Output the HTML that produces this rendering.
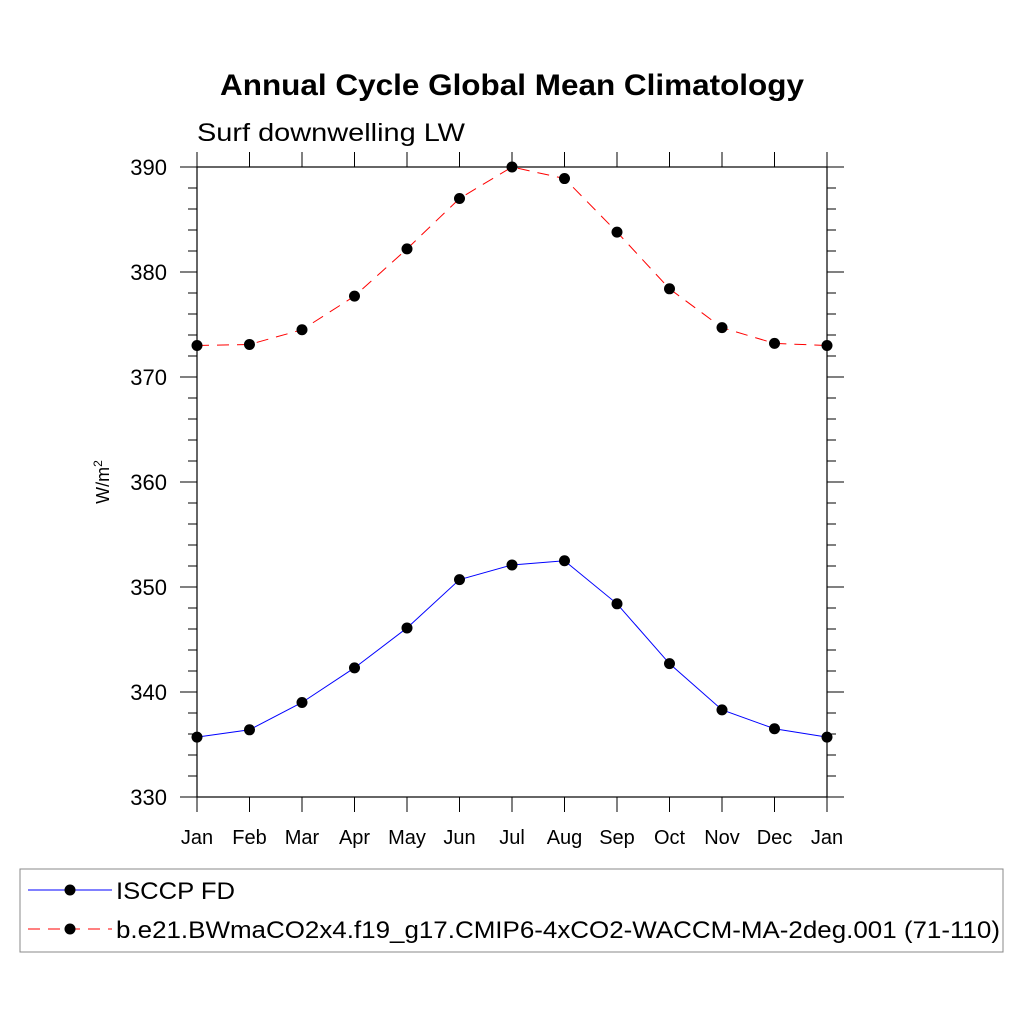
<!DOCTYPE html>
<html><head><meta charset="utf-8"><style>body{margin:0;background:#fff}svg{display:block;font-family:"Liberation Sans",sans-serif}</style></head>
<body>
<svg id="chart" width="1024" height="1024" viewBox="0 0 1024 1024" xmlns="http://www.w3.org/2000/svg">
<text x="220" y="95" font-size="30" font-weight="bold" textLength="584" lengthAdjust="spacingAndGlyphs">Annual Cycle Global Mean Climatology</text>
<text x="197" y="141" font-size="25" textLength="268" lengthAdjust="spacingAndGlyphs">Surf downwelling LW</text>
<text transform="translate(109,482) rotate(-90)" text-anchor="middle" font-size="18">W/m<tspan font-size="12" dy="-7">2</tspan></text>
<g id="axes"></g><g id="series"></g>
<rect x="20" y="869" width="983" height="83" fill="none" stroke="#888" stroke-width="1"/>
<g>
<line x1="28" y1="890" x2="112" y2="890" stroke="#00f" stroke-width="1"/><circle cx="70" cy="890" r="5.5" fill="#000"/>
<text x="116" y="899" font-size="24" textLength="119" lengthAdjust="spacingAndGlyphs">ISCCP FD</text></g>
<g>
<line x1="28" y1="929" x2="112" y2="929" stroke="#f00" stroke-width="1" stroke-dasharray="12,8"/><circle cx="70" cy="929" r="5.5" fill="#000"/>
<text x="116" y="938" font-size="24" textLength="884" lengthAdjust="spacingAndGlyphs">b.e21.BWmaCO2x4.f19_g17.CMIP6-4xCO2-WACCM-MA-2deg.001 (71-110)</text></g>
</svg>
<script>
const months=["Jan","Feb","Mar","Apr","May","Jun","Jul","Aug","Sep","Oct","Nov","Dec","Jan"];
const yTicks=[330,340,350,360,370,380,390];
const obsValues=[335.7,336.4,339.0,342.3,346.1,350.7,352.1,352.5,348.4,342.7,338.3,336.5,335.7];
const modelValues=[373.0,373.1,374.5,377.7,382.2,387.0,390.0,388.9,383.8,378.4,374.7,373.2,373.0];
const L=197,R=827,T=167,B=797,yMin=330,yMax=390;
const X=i=>L+(R-L)*i/(months.length-1);
const Y=v=>B-(v-yMin)/(yMax-yMin)*(B-T);
const NS="http://www.w3.org/2000/svg";
function mk(t,a,p){const e=document.createElementNS(NS,t);for(const k in a)e.setAttribute(k,a[k]);p.appendChild(e);return e;}
const ax=document.getElementById('axes');
const fr=mk('rect',{x:L,y:T,width:R-L,height:B-T,fill:'none',stroke:'#000','stroke-width':1.2},ax);


for(let v=yMin;v<=yMax;v+=2){const maj=(v-yMin)%10===0;const len=maj?17:9;
 mk('line',{x1:L-len,y1:Y(v),x2:L,y2:Y(v),stroke:'#000','stroke-width':1},ax);
 mk('line',{x1:R,y1:Y(v),x2:R+len,y2:Y(v),stroke:'#000','stroke-width':1},ax);}
yTicks.forEach(v=>{const t=mk('text',{x:L-30,y:Y(v)+8,'text-anchor':'end','font-size':22},ax);t.textContent=v;
 
 });
months.forEach((m,i)=>{mk('line',{x1:X(i),y1:B,x2:X(i),y2:B+15,stroke:'#000','stroke-width':1},ax);
 mk('line',{x1:X(i),y1:T,x2:X(i),y2:T-15,stroke:'#000','stroke-width':1},ax);
 const t=mk('text',{x:X(i),y:B+47,'text-anchor':'middle','font-size':20},ax);t.textContent=m;
 
 });
const sg=document.getElementById('series');
function series(vals,color,dash,name){
 const p=mk('polyline',{points:vals.map((v,i)=>X(i)+','+Y(v)).join(' '),fill:'none',stroke:color,'stroke-width':1,'stroke-dasharray':dash},sg);
 
 
 vals.forEach((v,i)=>{const c=mk('circle',{cx:X(i),cy:Y(v),r:5.5,fill:'#000'},sg);
  
  });}
series(obsValues,'#00f','none','isccp');
series(modelValues,'#f00','12,8','model');
</script>
</body></html>
